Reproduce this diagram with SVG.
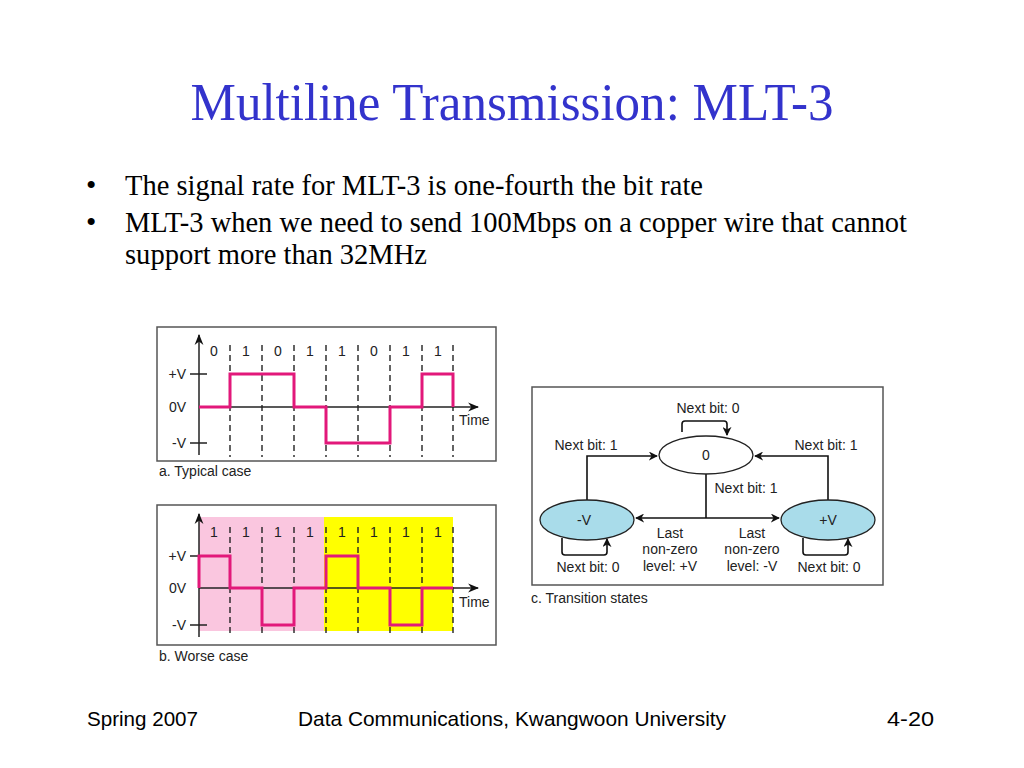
<svg xmlns="http://www.w3.org/2000/svg" width="1024" height="768" viewBox="0 0 1024 768">
<style>
.title{font-family:"Liberation Serif",serif;font-size:53px;fill:#3333cc}
.body{font-family:"Liberation Serif",serif;font-size:29.5px;fill:#000}
.foot{font-family:"Liberation Sans",sans-serif;font-size:21px;fill:#000}
.lbl{font-family:"Liberation Sans",sans-serif;font-size:14px;fill:#222}
.cap{font-family:"Liberation Sans",sans-serif;font-size:14px;fill:#222}
.frame{fill:#fff;stroke:#555;stroke-width:1.5}
.axis{stroke:#222;stroke-width:1.5;fill:none}
.dash{stroke:#222;stroke-width:1.4;stroke-dasharray:6 4;fill:none}
.sig{stroke:#e2187a;stroke-width:3;fill:none;stroke-linejoin:miter}
.conn{stroke:#111;stroke-width:1.6;fill:none}
.st{stroke:#222;stroke-width:1.3}
</style>
<defs>
<marker id="ah" viewBox="0 0 10 10" refX="9" refY="5" markerWidth="9" markerHeight="9" markerUnits="userSpaceOnUse" orient="auto">
<path d="M0,0 L10,5 L0,10 L3,5 z" fill="#111"/>
</marker>
<marker id="ax" viewBox="0 0 10 10" refX="9" refY="5" markerWidth="11" markerHeight="11" markerUnits="userSpaceOnUse" orient="auto">
<path d="M0,1 L10,5 L0,9 L3,5 z" fill="#111"/>
</marker>
</defs>
<rect width="1024" height="768" fill="#fff"/>
<text class="title" x="512" y="120" text-anchor="middle" textLength="643" lengthAdjust="spacingAndGlyphs">Multiline Transmission: MLT-3</text>
<text class="body" x="86" y="195">•</text>
<text class="body" x="125" y="195" textLength="578" lengthAdjust="spacingAndGlyphs">The signal rate for MLT-3 is one-fourth the bit rate</text>
<text class="body" x="86" y="232">•</text>
<text class="body" x="125" y="232" textLength="782" lengthAdjust="spacingAndGlyphs">MLT-3 when we need to send 100Mbps on a copper wire that cannot</text>
<text class="body" x="125" y="264" textLength="302" lengthAdjust="spacingAndGlyphs">support more than 32MHz</text>

<g id="panel-a">
<rect class="frame" x="157" y="327" width="339" height="134"/>
<g class="dash">
<path d="M230 345V457M262 345V457M294 345V457M326 345V457M358 345V457M390 345V457M422 345V457M453 345V457"/>
</g>
<path class="axis" d="M199 455V335" marker-end="url(#ax)"/>
<path class="axis" d="M199 407H478" marker-end="url(#ax)"/>
<path class="axis" d="M190 374H207M190 443H207"/>
<path class="sig" d="M199 407H230V374H294V407H326V443H390V407H422V374H453V407"/>
<g class="lbl" text-anchor="middle">
<text x="214" y="356">0</text><text x="246" y="356">1</text><text x="278" y="356">0</text><text x="310" y="356">1</text>
<text x="342" y="356">1</text><text x="374" y="356">0</text><text x="406" y="356">1</text><text x="438" y="356">1</text>
</g>
<g class="lbl" text-anchor="end">
<text x="186" y="379">+V</text><text x="186" y="412">0V</text><text x="186" y="448">-V</text>
</g>
<text class="lbl" x="459" y="425">Time</text>
<text class="cap" x="159" y="476">a. Typical case</text>
</g>

<g id="panel-b">
<rect class="frame" x="157" y="505" width="339" height="140"/>
<rect x="199" y="517" width="125" height="114" fill="#fac6df"/>
<rect x="324" y="517" width="129" height="114" fill="#ffff00"/>
<g class="dash">
<path d="M230 527V637M262 527V637M294 527V637M326 527V637M358 527V637M390 527V637M422 527V637M453 527V637"/>
</g>
<path class="axis" d="M199 637V514" marker-end="url(#ax)"/>
<path class="axis" d="M199 588H478" marker-end="url(#ax)"/>
<path class="axis" d="M190 556H207M190 625H207"/>
<path class="sig" d="M199 588V556H230V588H262V625H294V588H326V556H358V588H390V625H422V588H453"/>
<g class="lbl" text-anchor="middle">
<text x="214" y="537">1</text><text x="246" y="537">1</text><text x="278" y="537">1</text><text x="310" y="537">1</text>
<text x="342" y="537">1</text><text x="374" y="537">1</text><text x="406" y="537">1</text><text x="438" y="537">1</text>
</g>
<g class="lbl" text-anchor="end">
<text x="186" y="561">+V</text><text x="186" y="593">0V</text><text x="186" y="630">-V</text>
</g>
<text class="lbl" x="459" y="607">Time</text>
<text class="cap" x="159" y="661">b. Worse case</text>
</g>

<g id="panel-c">
<rect class="frame" x="532" y="387" width="351" height="198"/>
<text class="cap" x="531" y="603">c. Transition states</text>
</g>

<g id="connectors">
<path class="conn" d="M587 500V456H657" marker-end="url(#ah)"/>
<path class="conn" d="M828 500V456H755" marker-end="url(#ah)"/>
<path class="conn" d="M706 474V518"/>
<path class="conn" d="M706 518H636" marker-end="url(#ah)"/>
<path class="conn" d="M706 518H779" marker-end="url(#ah)"/>
<path class="conn" d="M682 432V424Q682 421 685 421H724Q727 421 727 424V435" marker-end="url(#ah)"/>
<path class="conn" d="M562 538V552Q562 555 565 555H604Q607 555 607 552V539" marker-end="url(#ah)"/>
<path class="conn" d="M803 538V552Q803 555 806 555H845Q848 555 848 552V539" marker-end="url(#ah)"/>
</g>

<g id="state-zero">
<ellipse class="st" cx="706" cy="455" rx="47" ry="19" fill="#fff"/>
<text class="lbl" x="706" y="460" text-anchor="middle">0</text>
</g>
<g id="state-minus">
<ellipse class="st" cx="587" cy="520" rx="47" ry="20" fill="#a9dcea"/>
<text class="lbl" x="584" y="525" text-anchor="middle">-V</text>
</g>
<g id="state-plus">
<ellipse class="st" cx="828" cy="520" rx="47" ry="20" fill="#a9dcea"/>
<text class="lbl" x="828" y="525" text-anchor="middle">+V</text>
</g>

<g id="labels-c" class="lbl" text-anchor="middle">
<text x="708" y="413">Next bit: 0</text>
<text x="586" y="450">Next bit: 1</text>
<text x="826" y="450">Next bit: 1</text>
<text x="746" y="493">Next bit: 1</text>
<text x="670" y="538">Last</text><text x="670" y="554">non-zero</text><text x="670" y="571">level: +V</text>
<text x="752" y="538">Last</text><text x="752" y="554">non-zero</text><text x="752" y="571">level: -V</text>
<text x="588" y="572">Next bit: 0</text>
<text x="829" y="572">Next bit: 0</text>
</g>

<text class="foot" x="87" y="726" textLength="111" lengthAdjust="spacingAndGlyphs">Spring 2007</text>
<text class="foot" x="298" y="726" textLength="428" lengthAdjust="spacingAndGlyphs">Data Communications, Kwangwoon University</text>
<text class="foot" x="887" y="726" textLength="47" lengthAdjust="spacingAndGlyphs">4-20</text>
</svg>
